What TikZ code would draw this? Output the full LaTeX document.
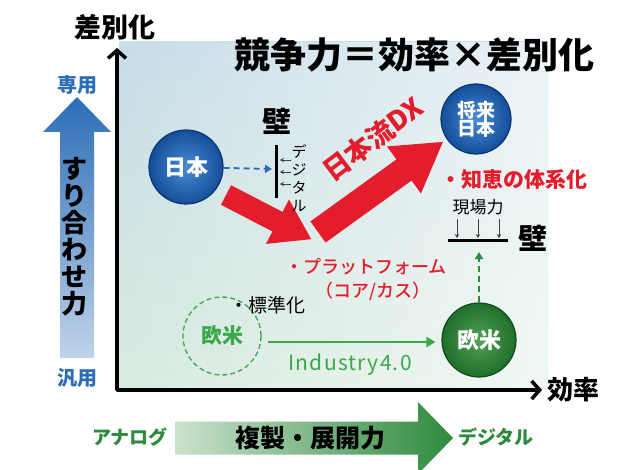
\documentclass[tikz,border=0pt]{standalone}
\usepackage{fontspec}
\setmainfont{Noto Sans CJK JP}[BoldFont={Noto Sans CJK JP Black}]
\newfontfamily\jpmed{Noto Sans CJK JP Medium}
\usetikzlibrary{arrows.meta,shadings,fadings}
\definecolor{axblue}{HTML}{2C6DB6}
\definecolor{circL}{HTML}{4A8DD4}
\definecolor{circD}{HTML}{134E9A}
\definecolor{circRim}{HTML}{0C3470}
\definecolor{gcircL}{HTML}{52A455}
\definecolor{gcircD}{HTML}{1F6E2B}
\definecolor{gcircRim}{HTML}{124A1A}
\definecolor{myred}{HTML}{E31D2B}
\definecolor{grn}{HTML}{3BA84A}
\definecolor{dgrn}{HTML}{2E8A3C}
\definecolor{bgA}{HTML}{C7DDE8}
\definecolor{bgB}{HTML}{D8EBDF}
\tikzfading[name=fadeR, left color=transparent!100, right color=transparent!35]
\newcommand\fsz[1]{\fontsize{#1}{#1}\selectfont}
\newcommand\fatarr[8]{%
\begin{scope}[shift={(#1,#2)},rotate=#3]
\fill[#8] (0,-#5) -- ({#4-#7},-#5) -- ({#4-#7},-#6) -- (#4,0) -- ({#4-#7},#6) -- ({#4-#7},#5) -- (0,#5) -- cycle;
\end{scope}}
\begin{document}
\begin{tikzpicture}[x=1pt,y=-1pt,
  bluecirc/.style={circle, minimum size=74, inner color=circL, outer color=circD, draw=circRim, line width=1.2, text=white, align=center, font=\fsz{22}\bfseries},
  greencirc/.style={circle, minimum size=74, inner color=gcircL, outer color=gcircD, draw=gcircRim, line width=1.2, text=white, align=center, font=\fsz{22}\bfseries},
  lbl/.style={inner sep=0pt, align=center},
  dxtext/.style={lbl, rotate=37, font=\fsz{27}\bfseries},
  wallline/.style={line width=3pt, black},
  smallarr/.style={-{Stealth[length=4pt,width=4.5pt]}, line width=0.7pt, black!75}
]
\useasboundingbox (0,0) rectangle (631,470);
\fill[white] (0,0) rectangle (631,470);
% background panel
\shade[top color=bgA, bottom color=bgB] (119,42) rectangle (548,388);
\fill[white, path fading=fadeR] (119,42) rectangle (548,388);

% axes
\coordinate (Ytip) at (117,48);
\coordinate (O) at (117,390);
\coordinate (Xtip) at (542,390);
\draw[line width=3.5pt, line join=round, {Straight Barb[length=8pt,width=18pt]}-{Straight Barb[length=8pt,width=18pt]}] (Ytip) -- (O) -- (Xtip);
\node[lbl, font=\fsz{27}\bfseries] (ylab) at (115,27) {差別化};
\node[lbl, font=\fsz{26}\bfseries] (xlab) at (573,390) {効率};

% title
\node[lbl, font=\fsz{36}\bfseries] (title) at (414,55) {競争力＝効率×差別化};

% left blue arrow
\shade[top color=axblue, bottom color=axblue!30] (60,358) -- (60,132) -- (43,132) -- (77,97) -- (111,132) -- (94,132) -- (94,358) -- cycle;
\node[lbl, text=axblue, font=\fsz{20}\bfseries] (senyo) at (77,85) {専用};
\node[lbl, text=axblue, font=\fsz{20}\bfseries] (hanyo) at (77,378) {汎用};
\node[lbl, font=\fsz{26}\bfseries, text=black] (suri) at (74,237) {す\\[1pt]り\\[1pt]合\\[1pt]わ\\[1pt]せ\\[1pt]力};

% bottom arrow
\shade[left color=dgrn!25, right color=dgrn] (175,421.5) -- (418,421.5) -- (418,402) -- (453,438) -- (418,474) -- (418,454.5) -- (175,454.5) -- cycle;
\node[lbl, font=\fsz{25}\bfseries] (fukusei) at (310,438) {複製・展開力};
\node[lbl, text=dgrn, font=\fsz{19}\bfseries] (analog) at (130,437) {アナログ};
\node[lbl, text=dgrn, font=\fsz{19}\bfseries] (digital) at (496,437) {デジタル};

% red arrows
\fatarr{226}{195}{-27.4}{96}{11}{25}{38}{myred}
\fatarr{318}{232}{35.8}{154}{13}{29}{48}{myred}
\node[dxtext, text=myred] (dx) at (373,139) {日本流DX};

% Japan
\node[bluecirc] (jp) at (186,167) {日本};
\coordinate (w1t) at (276,145);
\coordinate (w1b) at (276,198);
\coordinate (w1m) at (272,169);
\draw[wallline] (w1t) -- (w1b);
\node[lbl, font=\fsz{29}\bfseries] (wall1) at (277,121) {壁};
\draw[axblue, line width=1.8pt, dash pattern=on 6pt off 4pt, -{Triangle[length=7pt,width=8pt]}] (jp) -- (w1m);
\foreach \yy in {160,172,184}{
  \coordinate (sa\yy) at (291,\yy);
  \coordinate (sb\yy) at (280,\yy);
  \draw[smallarr] (sa\yy) -- (sb\yy);
}
\node[lbl, font=\fsz{15}] (dig2) at (299,178) {デ\\[3pt]ジ\\[3pt]タ\\[3pt]ル};

% future Japan
\node[bluecirc, minimum size=70, font=\fsz{19}\bfseries] (fjp) at (476,119) {将来\\[-1pt]日本};
\node[lbl, text=myred, font=\fsz{21}\bfseries] (chie) at (514,180) {・知恵の体系化};
\node[lbl, font=\fsz{17}] (genba) at (478,207) {現場力};
\coordinate (w2l) at (448,240);
\coordinate (w2r) at (508,240);
\draw[wallline] (w2l) -- (w2r);
\foreach \xx in {457,478,499}{
  \coordinate (da\xx) at (\xx,219);
  \coordinate (db\xx) at (\xx,238);
  \draw[smallarr] (da\xx) -- (db\xx);
}
\node[lbl, font=\fsz{29}\bfseries] (wall2) at (533,238) {壁};

% Europe/US
\node[greencirc] (eu) at (479,340) {欧米};
\coordinate (w2a) at (479,252);
\draw[dgrn, line width=2.5pt, dash pattern=on 6pt off 4pt, -{Triangle[length=7pt,width=8pt]}] (eu) -- (w2a);
\node[circle, draw=grn, line width=1.3pt, dash pattern=on 5pt off 3pt, minimum size=78, text=grn, font=\fsz{21}\bfseries] (eu0) at (222,336) {欧米};
\coordinate (ga) at (268,342);
\draw[grn, line width=2.5pt, -{Triangle[length=9pt,width=10pt]}, shorten >=6pt] (ga) -- (eu.west |- ga);
\node[lbl, text=grn, font=\fsz{21}\addfontfeature{LetterSpace=6}] (ind) at (350,365) {Industry4.0};

% texts
\node[lbl, text=myred, font=\fsz{18}\jpmed] (plat) at (366,267) {・プラットフォーム};
\node[lbl, text=myred, font=\fsz{18}\jpmed] (core) at (373,291) {（コア/カス）};
\node[lbl, font=\fsz{19}] (std) at (267,305) {・標準化};
\end{tikzpicture}
\end{document}
